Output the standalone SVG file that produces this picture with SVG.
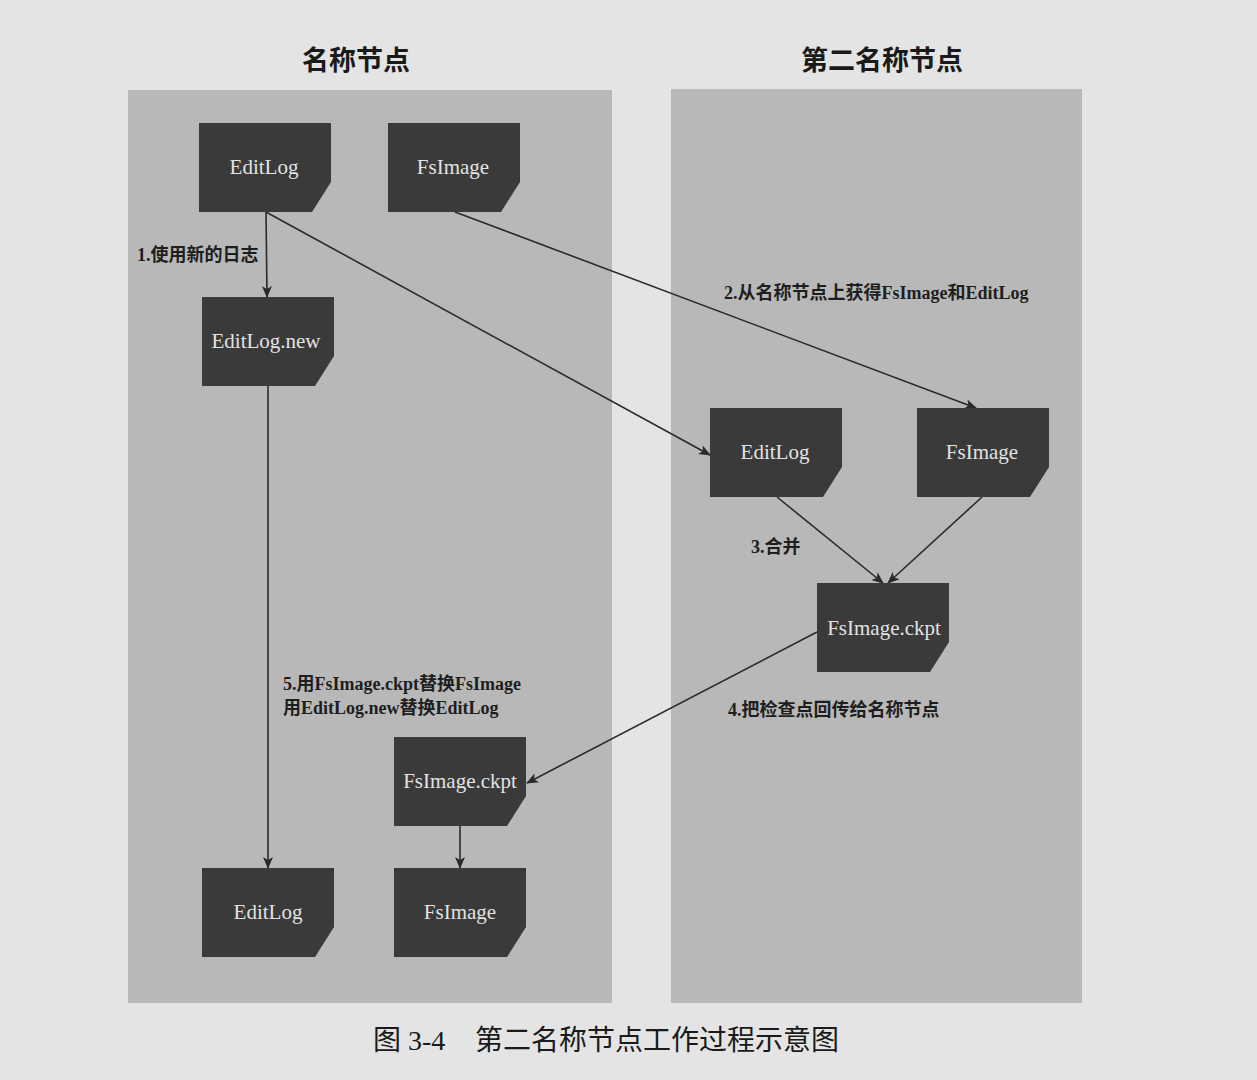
<svg xmlns="http://www.w3.org/2000/svg" width="1257" height="1080" viewBox="0 0 1257 1080">
<defs>
<style>
.panel{fill:#b8b8b8;}
.node{fill:#3a3a3a;}
.ntext{font-family:"Liberation Serif","Noto Sans CJK SC",serif;font-size:21px;fill:#e2e2e2;text-anchor:middle;}
.title{font-family:"Noto Sans CJK SC",sans-serif;font-size:27px;font-weight:bold;fill:#1a1a1a;text-anchor:middle;}
.lbl{font-family:"Liberation Serif","Noto Sans CJK SC",serif;font-size:18px;font-weight:bold;fill:#1e1e1e;}
.cap{font-family:"Liberation Serif","Noto Sans CJK SC",serif;font-size:28px;fill:#1a1a1a;}
.edge{stroke:#2a2a2a;stroke-width:1.6;fill:none;marker-end:url(#ah);}
</style>
<marker id="ah" markerWidth="12" markerHeight="10" refX="11" refY="5" orient="auto" markerUnits="userSpaceOnUse">
<path d="M0,0 L12,5 L0,10 L3,5 Z" fill="#2a2a2a"/>
</marker>
<path id="note" d="M0,0 H132 V59 L113,89 H0 Z"/>
</defs>
<rect width="1257" height="1080" fill="#e4e4e4"/>
<rect class="panel" x="128" y="90" width="484" height="913"/>
<rect class="panel" x="671" y="89" width="411" height="914"/>
<text class="title" x="356" y="70">名称节点</text>
<text class="title" x="882" y="70">第二名称节点</text>

<g id="edges">
<line class="edge" x1="266" y1="212" x2="267" y2="297"/>
<line class="edge" x1="266" y1="212" x2="710" y2="455"/>
<line class="edge" x1="455" y1="212" x2="976" y2="408"/>
<line class="edge" x1="777" y1="497" x2="883" y2="583"/>
<line class="edge" x1="982" y1="497" x2="888" y2="583"/>
<line class="edge" x1="817" y1="632" x2="527" y2="783"/>
<line class="edge" x1="268" y1="386" x2="268" y2="868"/>
<line class="edge" x1="460" y1="826" x2="460" y2="868"/>
</g>

<g id="labels">
<text class="lbl" x="137" y="261">1.使用新的日志</text>
<text class="lbl" x="724" y="299">2.从名称节点上获得FsImage和EditLog</text>
<text class="lbl" x="751" y="553">3.合并</text>
<text class="lbl" x="728" y="716">4.把检查点回传给名称节点</text>
<text class="lbl" x="283" y="690">5.用FsImage.ckpt替换FsImage</text>
<text class="lbl" x="283" y="714">用EditLog.new替换EditLog</text>
</g>

<g id="n1"><use href="#note" class="node" x="199" y="123"/><text class="ntext" x="264" y="174">EditLog</text></g>
<g id="n2"><use href="#note" class="node" x="388" y="123"/><text class="ntext" x="453" y="174">FsImage</text></g>
<g id="n3"><use href="#note" class="node" x="202" y="297"/><text class="ntext" x="266" y="348">EditLog.new</text></g>
<g id="n4"><use href="#note" class="node" x="710" y="408"/><text class="ntext" x="775" y="459">EditLog</text></g>
<g id="n5"><use href="#note" class="node" x="917" y="408"/><text class="ntext" x="982" y="459">FsImage</text></g>
<g id="n6"><use href="#note" class="node" x="817" y="583"/><text class="ntext" x="884" y="635">FsImage.ckpt</text></g>
<g id="n7"><use href="#note" class="node" x="394" y="737"/><text class="ntext" x="460" y="788">FsImage.ckpt</text></g>
<g id="n8"><use href="#note" class="node" x="202" y="868"/><text class="ntext" x="268" y="919">EditLog</text></g>
<g id="n9"><use href="#note" class="node" x="394" y="868"/><text class="ntext" x="460" y="919">FsImage</text></g>

<text class="cap" x="373" y="1050">图 3-4</text>
<text class="cap" x="475" y="1050">第二名称节点工作过程示意图</text>
</svg>
